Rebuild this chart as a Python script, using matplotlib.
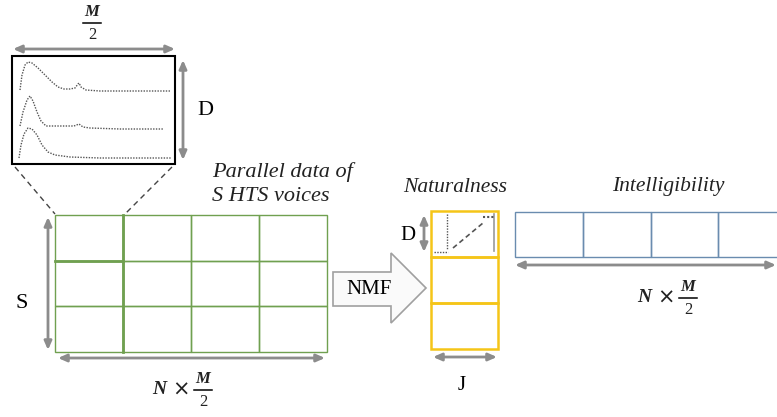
import matplotlib
matplotlib.use("Agg")
import matplotlib.pyplot as plt
from matplotlib.patches import Rectangle, Polygon

# ---- data / labels ----
grid_rows = 3
grid_cols = 4
nat_rows = 3
int_cols = 4
label_parallel = ["Parallel data of", "S HTS voices"]
label_nat = "Naturalness"
label_int = "Intelligibility"
label_nmf = "NMF"
label_D = "D"
label_S = "S"
label_J = "J"

curve1_x = [20, 22, 25, 28, 32, 38, 45, 52, 58, 64, 70, 75, 78, 79, 81, 86, 100, 130, 170]
curve1_y = [90, 75, 65, 62, 63, 68, 75, 82, 87, 89, 89, 88, 84, 83, 87, 90, 91, 91, 91]
curve2_x = [20, 23, 27, 30, 33, 37, 41, 46, 60, 74, 79, 83, 90, 120, 163]
curve2_y = [126, 112, 100, 96, 101, 112, 121, 126, 126, 126, 124, 127, 128, 129, 129]
curve3_x = [19, 21, 24, 28, 32, 37, 42, 48, 55, 70, 100, 140, 171]
curve3_y = [158, 145, 134, 128, 129, 135, 145, 152, 155, 157, 158, 158, 158]

W, H = 777, 417
fig = plt.figure(figsize=(W / 100, H / 100), dpi=100)
ax = fig.add_axes([0, 0, 1, 1])
ax.set_xlim(0, W)
ax.set_ylim(H, 0)
ax.axis("off")

serif = ["Liberation Serif", "DejaVu Serif"]
GREY = "#8c8c8c"
GREEN = "#70a050"
GOLD = "#f5c518"
BLUE = "#6a8caf"


def darrow(x0, y0, x1, y1):
    ax.annotate("", xy=(x1, y1), xytext=(x0, y0),
                arrowprops=dict(arrowstyle="<|-|>,head_length=0.5,head_width=0.22",
                                color=GREY, lw=2, shrinkA=0, shrinkB=0))


def frac(xc, ytop, size=12, prefix=True):
    ax.text(xc, ytop, "M", fontsize=size, family=serif, style="italic",
            weight="bold", ha="center", va="center", color="#222222")
    ax.plot([xc - 9, xc + 9], [ytop + 11, ytop + 11], color="black", lw=1.1)
    ax.text(xc, ytop + 23, "2", fontsize=size, family=serif,
            ha="center", va="center", color="#222222")
    if prefix:
        ax.text(xc - 44, ytop + 11, "N", fontsize=size + 2, family=serif,
                style="italic", weight="bold", ha="center", va="center",
                color="#222222")
        ax.text(xc - 22, ytop + 11, "\u00d7", fontsize=size + 3, family="DejaVu Sans",
                ha="center", va="center", color="#222222")


# ---- inset box with spectra ----
ax.add_patch(Rectangle((12, 56), 163, 108, fill=False, ec="black", lw=1.5))
for cx, cy in [(curve1_x, curve1_y), (curve2_x, curve2_y), (curve3_x, curve3_y)]:
    ax.plot(cx, cy, color="#555555", lw=1.0, ls=(0, (1, 1)))
darrow(13, 49, 175, 49)
frac(92, 12, size=12, prefix=False)
darrow(183, 60, 183, 160)
ax.text(205, 110, label_D, fontsize=16, family=serif, ha="center", va="center")

# dashed connectors
ax.plot([15, 55], [167, 214], color="#444444", lw=1, ls=(0, (4, 3)))
ax.plot([172, 123], [167, 216], color="#444444", lw=1, ls=(0, (4, 3)))

# ---- main green grid ----
gx0, gx1, gy0, gy1 = 55, 327, 215, 352
cw = (gx1 - gx0) / grid_cols
rh = (gy1 - gy0) / grid_rows
for r in range(grid_rows):
    for c in range(grid_cols):
        ax.add_patch(Rectangle((gx0 + c * cw, gy0 + r * rh), cw, rh,
                               fill=False, ec=GREEN, lw=1.0))
# emphasised first block
ax.plot([gx0 + cw, gx0 + cw], [gy0, gy1], color=GREEN, lw=2.0)
ax.plot([gx0, gx0 + cw], [gy0 + rh, gy0 + rh], color=GREEN, lw=2.0)
darrow(48, 217, 48, 350)
ax.text(22, 303, label_S, fontsize=16, family=serif, ha="center", va="center")
darrow(58, 358, 325, 358)
frac(203, 379, size=12)
ax.text(212, 172, label_parallel[0], fontsize=16, family=serif, style="italic",
        ha="left", va="center", color="#222222")
ax.text(212, 196, label_parallel[1], fontsize=16, family=serif, style="italic",
        ha="left", va="center", color="#222222")

# ---- NMF arrow ----
arrow_pts = [(333, 272), (391, 272), (391, 253), (426, 288),
             (391, 323), (391, 306), (333, 306)]
ax.add_patch(Polygon(arrow_pts, closed=True, fc="#fafafa", ec="#a0a0a0", lw=1.2))
ax.text(369, 290, label_nmf, fontsize=15, family=serif, ha="center", va="center")

# ---- Naturalness column ----
nx0, nx1, ny0, ny1 = 431, 498, 211, 349
nh = (ny1 - ny0) / nat_rows
for r in range(nat_rows):
    ax.add_patch(Rectangle((nx0, ny0 + r * nh), nx1 - nx0, nh,
                           fill=False, ec=GOLD, lw=1.8))
# tiny activation plot in the first cell
ax.plot([447, 447], [214, 250], color="#555555", lw=1, ls=(0, (1, 1)))
ax.plot([494, 494], [214, 251], color="#999999", lw=1.2)
ax.plot([434, 448], [252, 252], color="#555555", lw=1, ls=(0, (1, 1)))
ax.plot([483, 494], [217, 217], color="#555555", lw=1.5, ls=(0, (1, 1)))
ax.plot([453, 483], [248, 223], color="#555555", lw=1.2, ls=(0, (3, 2)))
darrow(424, 215, 424, 252)
ax.text(408, 235, label_D, fontsize=15, family=serif, ha="center", va="center")
darrow(433, 357, 497, 357)
ax.text(462, 386, label_J, fontsize=15, family=serif, ha="center", va="center")
ax.text(455, 187, label_nat, fontsize=15.5, family=serif, style="italic",
        ha="center", va="center", color="#222222")

# ---- Intelligibility row ----
ix0, ix1, iy0, iy1 = 515, 786, 212, 257
iw = (ix1 - ix0) / int_cols
for c in range(int_cols):
    ax.add_patch(Rectangle((ix0 + c * iw, iy0), iw, iy1 - iy0,
                           fill=False, ec=BLUE, lw=1.0))
darrow(515, 265, 776, 265)
frac(688, 287, size=12)
ax.text(668, 186, label_int, fontsize=15.5, family=serif, style="italic",
        ha="center", va="center", color="#222222")

fig.savefig("out.png", dpi=100)
